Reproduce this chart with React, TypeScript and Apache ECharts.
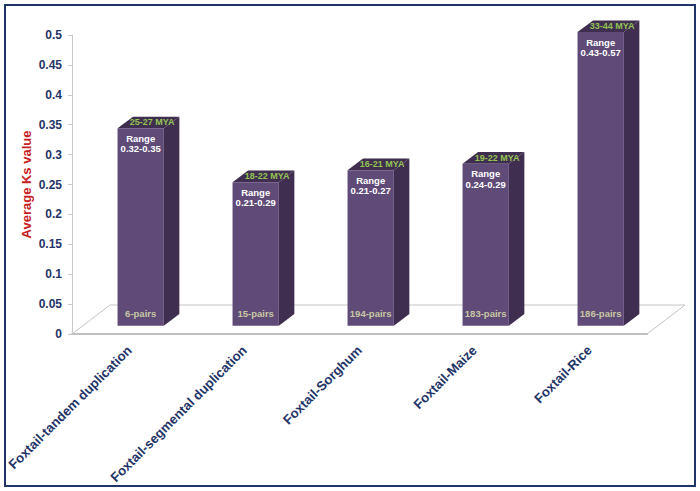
import React, { useEffect, useRef } from "react";
import * as echarts from "echarts";

const categories = [
  "Foxtail-tandem duplication",
  "Foxtail-segmental duplication",
  "Foxtail-Sorghum",
  "Foxtail-Maize",
  "Foxtail-Rice",
];
const averageKs = [0.33, 0.24, 0.26, 0.271, 0.491];
const ranges = ["0.32-0.35", "0.21-0.29", "0.21-0.27", "0.24-0.29", "0.43-0.57"];
const mya = ["25-27 MYA", "18-22 MYA", "16-21 MYA", "19-22 MYA", "33-44 MYA"];
const pairs = ["6-pairs", "15-pairs", "194-pairs", "183-pairs", "186-pairs"];

const FONT = "Liberation Sans, Arial, sans-serif";
const NAVY = "#1f3468";

export default function App() {
  const ref = useRef<HTMLDivElement>(null);
  useEffect(() => {
    const chart = echarts.init(ref.current!, undefined, { renderer: "svg" });
    chart.setOption({
      animation: false,
      backgroundColor: "#fff",
      grid: { left: 72, top: 35, width: 575, height: 299 },
      graphic: [
        {
          type: "rect",
          z: 0,
          shape: { x: 5, y: 5, width: 690, height: 481 },
          style: { fill: "none", stroke: "#1f3468", lineWidth: 2 },
        },
        {
          type: "polygon",
          z: 0,
          shape: { points: [[72, 334], [110, 305], [685, 305], [647, 334]] },
          style: { fill: "#fff", stroke: "#c4c4c4", lineWidth: 1 },
        },
      ],
      xAxis: {
        type: "category",
        data: categories,
        axisLine: { lineStyle: { color: "#c0c0c0", width: 2 } },
        axisTick: { show: false },
        axisLabel: {
          interval: 0,
          rotate: 45,
          margin: 14,
          color: NAVY,
          fontFamily: FONT,
          fontWeight: "bold",
          fontSize: 13.2,
        },
      },
      yAxis: {
        type: "value",
        min: 0,
        max: 0.5,
        interval: 0.05,
        name: "Average Ks value",
        nameLocation: "middle",
        nameGap: 39,
        nameMoveOverlap: false,
        nameTextStyle: { color: "#c8201e", fontFamily: FONT, fontWeight: "bold", fontSize: 13 },
        axisLine: { show: true, lineStyle: { color: "#c8c8c8", width: 1 } },
        axisTick: { show: true, length: 4, lineStyle: { color: "#c8c8c8" } },
        splitLine: { show: false },
        axisLabel: {
          margin: 10,
          color: NAVY,
          fontFamily: FONT,
          fontWeight: "bold",
          fontSize: 12,
          formatter: (v: number) => String(Number(v.toFixed(2))),
        },
      },
      series: [
        {
          type: "custom",
          data: averageKs.map((v, i) => [i, v]),
          encode: { x: 0, y: 1 },
          clip: false,
          renderItem: (params: any, api: any) => {
            const i = api.value(0);
            const base = api.coord([i, 0]);
            const top = api.coord([i, api.value(1)]);
            const lift = 8.3;
            const w = 46.3;
            const dx = 15.5;
            const dy = 11.7;
            const l = base[0] + 11.2 - w / 2;
            const r = l + w;
            const yb = base[1] - lift;
            const yt = top[1] - lift;
            const cx = (l + r) / 2;
            const text = (t: string, x: number, y: number, fill: string, size: number) => ({
              type: "text",
              z2: 10,
              style: {
                text: t,
                x,
                y,
                fill,
                font: `bold ${size}px ${FONT}`,
                textAlign: "center",
                textVerticalAlign: "middle",
              },
            });
            return {
              type: "group",
              children: [
                {
                  type: "polygon",
                  shape: { points: [[r, yt], [r + dx, yt - dy], [r + dx, yb - dy], [r, yb]] },
                  style: { fill: "#3f2e4f" },
                },
                {
                  type: "polygon",
                  shape: { points: [[l, yt], [l + dx, yt - dy], [r + dx, yt - dy], [r, yt]] },
                  style: { fill: "#3f2e4f" },
                },
                {
                  type: "rect",
                  shape: { x: l, y: yt, width: w, height: yb - yt },
                  style: { fill: "#5f4a78" },
                },
                text(mya[i], cx + 11.5, yt - 6, "#93c452", 9),
                text("Range", cx, yt + 10, "#ffffff", 9.5),
                text(ranges[i], cx, yt + 20.5, "#ffffff", 9.5),
                text(pairs[i], cx, yb - 12, "#c9c8a4", 9.5),
              ],
            };
          },
        },
      ],
    });
    return () => chart.dispose();
  }, []);
  return (
    <div
      ref={ref}
      style={{ position: "absolute", left: 0, top: 0, width: 700, height: 491 }}
    />
  );
}
